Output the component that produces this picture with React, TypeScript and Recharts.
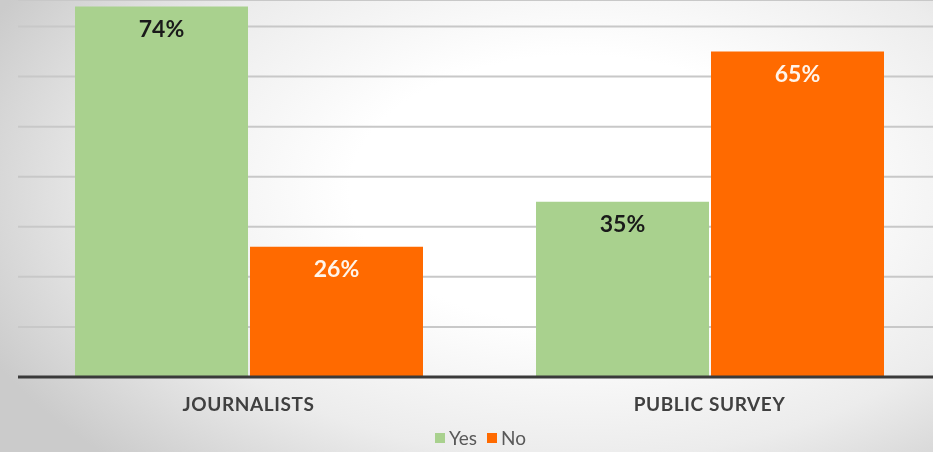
import { BarChart, Bar, XAxis, YAxis, CartesianGrid, Legend, LabelList } from "recharts";

// share of respondents answering yes / no (%)
const groups = ["JOURNALISTS", "PUBLIC SURVEY"];
const yesValues = [74, 35];
const noValues = [26, 65];
const gridTicks = [0, 10, 20, 30, 40, 50, 60, 70];
const seriesNames = ["Yes", "No"];
const seriesColors = ["#a9d18e", "#ff6a00"];

const data = groups.map((g, i) => ({ group: g, Yes: yesValues[i], No: noValues[i] }));

const font = "Lato, 'Open Sans', sans-serif";

function LegendBox() {
  return (
    <div style={{ display: "flex", justifyContent: "center", gap: 10, paddingLeft: 6 }}>
      {seriesNames.map((n, i) => (
        <span key={n} style={{ display: "flex", alignItems: "center", gap: 4 }}>
          <span style={{ width: 10, height: 10, background: seriesColors[i], display: "inline-block" }} />
          <span style={{ color: "#595959", fontSize: 19, fontFamily: font }}>{n}</span>
        </span>
      ))}
    </div>
  );
}

export default function App() {
  return (
    <div
      style={{
        position: "fixed",
        left: 0,
        top: 0,
        width: 933,
        height: 452,
        overflow: "hidden",
        fontFamily: font,
        background:
          "radial-gradient(ellipse 70% 85% at 62% 42%, #ffffff 35%, #ececec 70%, #cbcbcb 100%)",
      }}
    >
      <BarChart
        width={940}
        height={452}
        data={data}
        margin={{ top: 0, right: 0, left: 18, bottom: 0 }}
        barSize={173}
        barGap={2}
      >
        <CartesianGrid vertical={false} stroke="#c8c8c8" strokeWidth={2} />
        <YAxis hide domain={[0, 75.3]} ticks={gridTicks} />
        <XAxis
          dataKey="group"
          height={45}
          tickLine={false}
          axisLine={{ stroke: "#3a3a3a", strokeWidth: 3 }}
          tick={{ fontSize: 19, fontWeight: 700, fill: "#404040", fontFamily: font, letterSpacing: 0.6 }}
          dy={13}
        />
        <Legend
          verticalAlign="bottom"
          height={30}
          wrapperStyle={{ left: 0, width: 955, bottom: -4 }}
          content={<LegendBox />}
        />
        <Bar dataKey="Yes" fill={seriesColors[0]} isAnimationActive={false}>
          <LabelList
            dataKey="Yes"
            position="insideTop"
            offset={14}
            formatter={(v) => `${v}%`}
            style={{ fontSize: 23, fontWeight: 700, fill: "#1a1a1a", fontFamily: font }}
          />
        </Bar>
        <Bar dataKey="No" fill={seriesColors[1]} isAnimationActive={false}>
          <LabelList
            dataKey="No"
            position="insideTop"
            offset={14}
            formatter={(v) => `${v}%`}
            style={{ fontSize: 23, fontWeight: 700, fill: "#fff4ea", fontFamily: font }}
          />
        </Bar>
      </BarChart>
    </div>
  );
}
